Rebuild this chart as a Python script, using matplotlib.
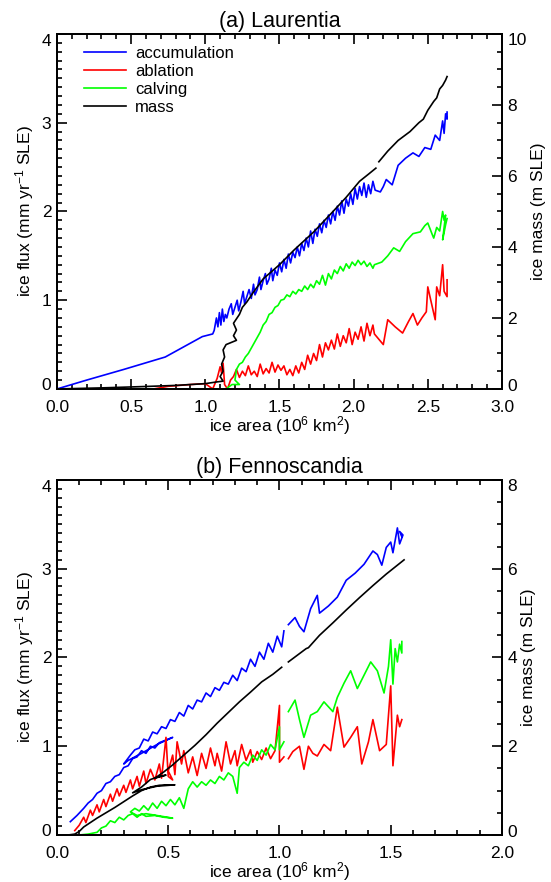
import numpy as np
import matplotlib
matplotlib.use("Agg")
import matplotlib.pyplot as plt
from matplotlib.ticker import MultipleLocator
from matplotlib.transforms import ScaledTranslation

plt.rcParams['font.family'] = ['Liberation Sans', 'DejaVu Sans']
plt.rcParams['mathtext.fontset'] = 'custom'
plt.rcParams['mathtext.rm'] = 'Liberation Sans'
plt.rcParams['mathtext.it'] = 'Liberation Sans'
plt.rcParams['mathtext.bf'] = 'Liberation Sans'

nan = np.nan

# ---------------- (a) Laurentia ----------------
la_acc_x = [0.0, 0.20, 0.45, 0.73, 0.98, 1.05,
            1.06, 1.075, 1.085, 1.095, 1.105, 1.115, 1.125, 1.135, 1.145, 1.16, 1.175, 1.185,
            1.20, 1.215, 1.225, 1.24, 1.255, 1.265, 1.28, 1.295, 1.31, 1.325, 1.335, 1.35,
            1.365, 1.375, 1.39, 1.405, 1.415, 1.43, 1.445, 1.455, 1.47, 1.485, 1.50, 1.515,
            1.53, 1.545, 1.56, 1.575, 1.59, 1.605, 1.62, 1.635, 1.65, 1.665, 1.68, 1.695,
            1.71, 1.725, 1.74, 1.755, 1.77, 1.785, 1.80, 1.815, 1.83, 1.845, 1.86, 1.875,
            1.89, 1.905, 1.92, 1.935, 1.95, 1.965, 1.98, 1.995, 2.01, 2.025, 2.04, 2.055,
            2.07, 2.085, 2.10, 2.115, 2.13, 2.145,
            2.18, 2.20, 2.22, 2.26, 2.30, 2.35, 2.40, 2.44, 2.48, 2.52, 2.55, 2.58, 2.60,
            2.61, 2.62, 2.63, 2.63]
la_acc_y = [0.0, 0.10, 0.22, 0.36, 0.59, 0.62,
            0.66, 0.80, 0.70, 0.86, 0.72, 0.90, 0.76, 0.84, 0.80, 0.90, 0.96, 0.84,
            0.92, 1.00, 0.88, 0.98, 1.10, 0.96, 1.04, 1.12, 1.02, 1.18, 1.06, 1.12,
            1.26, 1.12, 1.22, 1.30, 1.18, 1.24, 1.36, 1.22, 1.34, 1.28, 1.42, 1.32,
            1.46, 1.36, 1.52, 1.42, 1.54, 1.48, 1.60, 1.50, 1.64, 1.56, 1.70, 1.60,
            1.78, 1.64, 1.80, 1.72, 1.86, 1.76, 1.90, 1.82, 1.96, 1.86, 2.00, 1.90,
            2.06, 1.96, 2.12, 1.98, 2.14, 2.06, 2.20, 2.08, 2.26, 2.14, 2.28, 2.18,
            2.32, 2.16, 2.30, 2.20, 2.34, 2.24,
            2.22, 2.28, 2.36, 2.30, 2.52, 2.60, 2.66, 2.62, 2.72, 2.70, 2.86, 2.80, 3.02,
            2.88, 3.10, 3.04, 3.12]

la_abl_x = [0.0, 0.65, 0.75, 0.90, 1.00, 1.05, 1.08, 1.10, 1.11, 1.12, 1.13, 1.15, 1.17,
            1.19, 1.21, 1.23, 1.25, 1.27, 1.29, 1.31, 1.33, 1.35, 1.37, 1.39, 1.41, 1.43, 1.45,
            1.47, 1.49, 1.51, 1.53, 1.55, 1.57, 1.59, 1.61, 1.63, 1.65, 1.67, 1.69, 1.71, 1.73,
            1.75, 1.77, 1.79, 1.81, 1.83, 1.85, 1.87, 1.89, 1.91, 1.93, 1.95, 1.97, 1.99, 2.01,
            2.03, 2.05, 2.07, 2.09, 2.11, 2.13, 2.14,
            2.20, 2.23, 2.28, 2.33, 2.37, 2.40, 2.43, 2.46, 2.49, 2.50, 2.52, 2.55, 2.56, 2.58,
            2.60, 2.61, 2.63, 2.63]
la_abl_y = [0.0, 0.0, 0.03, 0.05, 0.06, 0.0, 0.12, 0.25, 0.18, 0.29, 0.05, 0.0, 0.10,
            0.14, 0.22, 0.13, 0.20, 0.15, 0.26, 0.16, 0.20, 0.14, 0.28, 0.17, 0.23, 0.18, 0.30,
            0.19, 0.27, 0.21, 0.26, 0.16, 0.22, 0.15, 0.26, 0.18, 0.30, 0.22, 0.38, 0.28, 0.40,
            0.32, 0.50, 0.36, 0.52, 0.44, 0.55, 0.45, 0.62, 0.48, 0.60, 0.52, 0.68, 0.50, 0.64,
            0.56, 0.70, 0.54, 0.74, 0.60, 0.72, 0.62,
            0.50, 0.78, 0.70, 0.63, 0.76, 0.85, 0.72, 0.80, 0.87, 1.15, 1.00, 0.78, 1.15, 1.05,
            1.40, 1.10, 1.04, 1.23]

la_calv_x = [0.0, 0.5, 1.0, 1.14, 1.18, 1.23, 1.20,
             1.21, 1.23, 1.25, 1.27, 1.29, 1.31, 1.33, 1.35, 1.37, 1.39, 1.41, 1.43, 1.45, 1.47,
             1.49, 1.51, 1.53, 1.55, 1.57, 1.59, 1.61, 1.63, 1.65, 1.67, 1.69, 1.71, 1.73, 1.75,
             1.77, 1.79, 1.81, 1.83, 1.85, 1.87, 1.89, 1.91, 1.93, 1.95, 1.97, 1.99, 2.01, 2.03,
             2.05, 2.07, 2.09, 2.11, 2.13, 2.14,
             2.19, 2.23, 2.27, 2.31, 2.35, 2.40, 2.45, 2.48, 2.50, 2.53, 2.54, 2.56, 2.58, 2.60,
             2.61, 2.62, 2.60, 2.62, 2.63]
la_calv_y = [0.0, 0.0, 0.0, 0.0, 0.05, 0.05, 0.10,
             0.22, 0.28, 0.30, 0.36, 0.40, 0.46, 0.52, 0.58, 0.64, 0.72, 0.76, 0.84, 0.86, 0.92,
             0.94, 1.00, 1.01, 1.06, 1.04, 1.10, 1.07, 1.12, 1.10, 1.16, 1.12, 1.18, 1.14, 1.22,
             1.18, 1.28, 1.17, 1.30, 1.24, 1.34, 1.30, 1.38, 1.33, 1.41, 1.36, 1.43, 1.39, 1.45,
             1.40, 1.44, 1.38, 1.42, 1.36, 1.40,
             1.43, 1.50, 1.59, 1.55, 1.66, 1.75, 1.77, 1.84, 1.87, 1.74, 1.70, 1.82, 1.78, 2.00,
             1.90, 1.96, 1.68, 1.85, 1.92]

# ice mass, m SLE (right axis)
la_mass_x = [0.0, 0.3, 0.6, 0.8, 1.0, 1.08, 1.12, 1.10, 1.12, 1.11, 1.13, 1.12, 1.14, 1.21,
             1.19, 1.21, 1.19, 1.23, 1.25, 1.28, 1.32, 1.39, 1.50, 1.60, 1.73, 1.85, 1.95, 2.04,
             2.10, 2.15, nan,
             2.17, 2.23, 2.30, 2.38, 2.44, 2.47, 2.50, 2.54, 2.56, 2.58, 2.60, 2.62, 2.63]
la_mass_y = [0.0, 0.03, 0.07, 0.10, 0.15, 0.20, 0.22, 0.35, 0.50, 0.70, 0.90, 1.10, 1.25, 1.37,
             1.50, 1.66, 1.85, 2.10, 2.30, 2.45, 2.70, 3.10, 3.50, 3.92, 4.42, 4.95, 5.40, 5.85,
             6.05, 6.22, nan,
             6.40, 6.70, 7.00, 7.25, 7.50, 7.60, 7.85, 8.10, 8.20, 8.45, 8.55, 8.70, 8.80]

# ---------------- (b) Fennoscandia ----------------
fe_acc_x = [0.06, 0.09, 0.12, 0.14, 0.16, 0.18, 0.20, 0.22, 0.24, 0.26, 0.28, 0.30, 0.32, 0.34,
            0.36, 0.38, 0.40, 0.42, 0.44, 0.46, 0.48, 0.50, 0.52, 0.45, 0.38, 0.32, 0.30,
            0.33, 0.35, 0.37, 0.39, 0.41, 0.43, 0.45, 0.47, 0.49, 0.51, 0.53, 0.55, 0.57, 0.59,
            0.61, 0.63, 0.65, 0.67, 0.69, 0.71, 0.73, 0.75, 0.77, 0.79, 0.81, 0.83, 0.85, 0.87,
            0.89, 0.91, 0.93, 0.95, 0.97, 0.99, 1.01, 1.02, nan,
            1.04, 1.07, 1.09, 1.11, 1.14, 1.17, 1.18, 1.22, 1.26, 1.30, 1.34, 1.38, 1.42, 1.44,
            1.46, 1.48, 1.50, 1.51, 1.53, 1.54, 1.555, 1.54, 1.55]
fe_acc_y = [0.15, 0.22, 0.30, 0.36, 0.40, 0.47, 0.50, 0.58, 0.60, 0.66, 0.68, 0.76, 0.78, 0.86,
            0.88, 0.95, 0.92, 1.00, 0.98, 1.04, 1.06, 1.08, 1.10, 1.02, 0.92, 0.84, 0.80,
            0.90, 0.96, 0.98, 1.08, 1.06, 1.16, 1.14, 1.22, 1.20, 1.30, 1.28, 1.38, 1.34, 1.46,
            1.42, 1.52, 1.50, 1.60, 1.56, 1.66, 1.63, 1.72, 1.70, 1.80, 1.74, 1.88, 1.84, 1.98,
            1.90, 2.06, 1.98, 2.16, 2.06, 2.24, 2.12, 2.30, nan,
            2.37, 2.45, 2.35, 2.29, 2.55, 2.70, 2.50, 2.58, 2.68, 2.87, 2.95, 3.05, 3.20, 3.16,
            3.04, 3.24, 3.30, 3.18, 3.46, 3.28, 3.38, 3.42, 3.36]

fe_abl_x = [0.08, 0.10, 0.12, 0.13, 0.15, 0.16, 0.18, 0.19, 0.21, 0.22, 0.24, 0.25, 0.27, 0.28,
            0.30, 0.31, 0.33, 0.34, 0.36, 0.37, 0.39, 0.40, 0.42, 0.44, 0.46, 0.47, 0.49, 0.50,
            0.52, 0.50, 0.52, 0.53, 0.54, 0.56, 0.57, 0.59, 0.61, 0.63, 0.65, 0.67, 0.69, 0.71,
            0.72, 0.74, 0.76, 0.78, 0.80, 0.81, 0.83, 0.85, 0.87, 0.88, 0.90, 0.92, 0.94, 0.96,
            0.98, 1.00, 1.00, 1.02, nan,
            1.04, 1.06, 1.09, 1.11, 1.13, 1.15, 1.17, 1.20, 1.23, 1.26, 1.29, 1.32, 1.35, 1.37,
            1.40, 1.42, 1.45, 1.48, 1.50, 1.51, 1.53, 1.54, 1.55]
fe_abl_y = [0.05, 0.11, 0.20, 0.14, 0.28, 0.22, 0.34, 0.26, 0.40, 0.32, 0.46, 0.38, 0.52, 0.44,
            0.56, 0.48, 0.62, 0.52, 0.66, 0.55, 0.72, 0.58, 0.74, 0.62, 0.80, 0.64, 1.10, 0.66,
            0.62, 0.72, 0.90, 0.68, 1.05, 0.80, 0.95, 0.70, 0.88, 0.67, 0.92, 0.75, 0.98, 0.78,
            0.92, 0.72, 1.05, 0.80, 0.95, 0.78, 1.02, 0.84, 0.96, 0.82, 0.94, 0.85, 0.98, 0.86,
            0.95, 1.46, 0.82, 0.88, nan,
            0.86, 0.94, 1.00, 0.74, 1.00, 0.92, 0.89, 1.02, 0.95, 1.44, 0.99, 1.10, 1.22, 0.80,
            1.05, 1.30, 0.95, 1.02, 1.68, 0.78, 1.35, 1.22, 1.30]

fe_calv_x = [0.10, 0.14, 0.18, 0.20, 0.22, 0.24, 0.26, 0.28, 0.30, 0.32, 0.34, 0.36, 0.38, 0.40,
             0.44, 0.48, 0.52, 0.40, 0.36, 0.33,
             0.35, 0.37, 0.39, 0.41, 0.43, 0.45, 0.47, 0.49, 0.51, 0.53, 0.55, 0.57, 0.59, 0.61,
             0.63, 0.65, 0.67, 0.69, 0.71, 0.73, 0.75, 0.77, 0.79, 0.81, 0.82, 0.84, 0.86, 0.88,
             0.90, 0.92, 0.94, 0.96, 0.98, 1.00, 1.00, 1.02, nan,
             1.04, 1.07, 1.09, 1.11, 1.14, 1.17, 1.20, 1.24, 1.26, 1.29, 1.32, 1.35, 1.38, 1.41,
             1.44, 1.47, 1.49, 1.50, 1.51, 1.52, 1.53, 1.54, 1.55, 1.55]
fe_calv_y = [0.0, 0.01, 0.03, 0.08, 0.10, 0.16, 0.14, 0.20, 0.17, 0.22, 0.24, 0.20, 0.24, 0.21,
             0.22, 0.20, 0.19, 0.24, 0.22, 0.26,
             0.30, 0.27, 0.33, 0.28, 0.36, 0.30, 0.38, 0.33, 0.40, 0.34, 0.42, 0.30, 0.52, 0.60,
             0.54, 0.60, 0.56, 0.62, 0.58, 0.66, 0.62, 0.70, 0.66, 0.47, 0.76, 0.82, 0.78, 0.90,
             0.84, 0.96, 0.90, 1.02, 0.96, 1.22, 0.96, 1.05, nan,
             1.39, 1.52, 1.30, 1.10, 1.35, 1.39, 1.50, 1.39, 1.55, 1.71, 1.85, 1.65, 1.80, 1.95,
             1.85, 1.60, 1.90, 2.20, 1.70, 2.10, 1.95, 2.15, 2.05, 2.18]

fe_mass_x = [0.05, 0.08, 0.10, 0.12, 0.15, 0.18, 0.22, 0.26, 0.30, 0.34, 0.38, 0.42, 0.46, 0.50,
             0.53, 0.45, 0.38, 0.34, 0.38, 0.42, 0.46, 0.49, 0.44, 0.48, 0.52, 0.57, 0.62, 0.67,
             0.72, 0.77, 0.82, 0.87, 0.92, 0.97, 1.01, nan,
             1.04, 1.08, 1.12, 1.13, 1.18, 1.24, 1.30, 1.36, 1.42, 1.48, 1.53, 1.56]
fe_mass_y = [0.0, 0.02, 0.08, 0.18, 0.28, 0.38, 0.50, 0.62, 0.75, 0.88, 1.00, 1.08, 1.12, 1.13,
             1.13, 1.10, 1.02, 0.95, 1.08, 1.25, 1.32, 1.35, 1.28, 1.42, 1.58, 1.80, 2.02, 2.26,
             2.52, 2.76, 3.00, 3.22, 3.45, 3.62, 3.78, nan,
             3.90, 4.05, 4.20, 4.22, 4.50, 4.78, 5.07, 5.35, 5.62, 5.88, 6.08, 6.20]

BLUE = '#0000ff'
RED = '#ff0000'
GREEN = '#00ff00'
LW = 1.2
FS = 12.5
LFS = 12.5


def style_axis(ax):
    for s in ax.spines.values():
        s.set_linewidth(1.3)
    ax.tick_params(which='both', direction='in', width=1.2, labelsize=FS, pad=4)
    ax.tick_params(which='major', length=7)
    ax.tick_params(which='minor', length=3.5)


def nudge_end_labels(axis, dy_low, dy_high):
    # IDL style: lowest label sits a bit higher, top label a bit lower
    ticks = axis.get_major_ticks()
    for tk, dy in ((ticks[0], dy_low), (ticks[-1], dy_high)):
        for lab in (tk.label1, tk.label2):
            lab.set_transform(lab.get_transform() +
                              ScaledTranslation(0, dy / 100, fig.dpi_scale_trans))


def panel(rect, title, xmax, mmax, ax_data, legend=False):
    ax = fig.add_axes(rect)
    acc_x, acc_y, abl_x, abl_y, calv_x, calv_y, mass_x, mass_y = ax_data
    ax.plot(acc_x, acc_y, color=BLUE, lw=LW, label='accumulation')
    ax.plot(abl_x, abl_y, color=RED, lw=LW, label='ablation')
    ax.plot(calv_x, calv_y, color=GREEN, lw=LW, label='calving')
    ax.plot([], [], color='k', lw=LW, label='mass')
    ax.set_xlim(0, xmax)
    ax.set_ylim(0, 4)
    ax.set_xticks(np.arange(0, xmax + 0.01, 0.5))
    ax.xaxis.set_minor_locator(MultipleLocator(0.1))
    ax.set_yticks([0, 1, 2, 3, 4])
    ax.yaxis.set_minor_locator(MultipleLocator(0.1))
    ax.xaxis.set_major_formatter(plt.FormatStrFormatter('%.1f'))
    style_axis(ax)
    ax.tick_params(which='both', top=True, right=False)
    ax.tick_params(axis='x', pad=8)
    ax.set_xlabel('ice area (10$^{6}$ km$^{2}$)', fontsize=LFS, labelpad=-1)
    ax.set_ylabel('ice flux (mm yr$^{-1}$ SLE)', fontsize=LFS, labelpad=4)
    ax.set_title(title, fontsize=15.5, pad=5)

    ax2 = ax.twinx()
    ax2.plot(mass_x, mass_y, color='k', lw=LW)
    ax2.set_ylim(0, mmax)
    ax2.set_yticks(np.arange(0, mmax + 0.1, 2))
    ax2.yaxis.set_minor_locator(MultipleLocator(0.5))
    style_axis(ax2)
    ax2.set_ylabel('ice mass (m SLE)', fontsize=LFS, labelpad=3)

    nudge_end_labels(ax.yaxis, 5, -6)
    nudge_end_labels(ax2.yaxis, 4, -5)

    if legend:
        ax.legend(loc='upper left', frameon=False, fontsize=12, handlelength=2.55,
                  handletextpad=0.55, labelspacing=0.18, borderaxespad=0.0,
                  bbox_to_anchor=(0.045, 0.985))
    return ax


fig = plt.figure(figsize=(5.51, 8.82), dpi=100)

panel([0.1034, 0.559, 0.8076, 0.4025], '(a) Laurentia', 3.0, 10,
      (la_acc_x, la_acc_y, la_abl_x, la_abl_y, la_calv_x, la_calv_y, la_mass_x, la_mass_y),
      legend=True)
panel([0.1034, 0.0533, 0.8076, 0.4025], '(b) Fennoscandia', 2.0, 8,
      (fe_acc_x, fe_acc_y, fe_abl_x, fe_abl_y, fe_calv_x, fe_calv_y, fe_mass_x, fe_mass_y))

fig.savefig('out.png', dpi=100)
